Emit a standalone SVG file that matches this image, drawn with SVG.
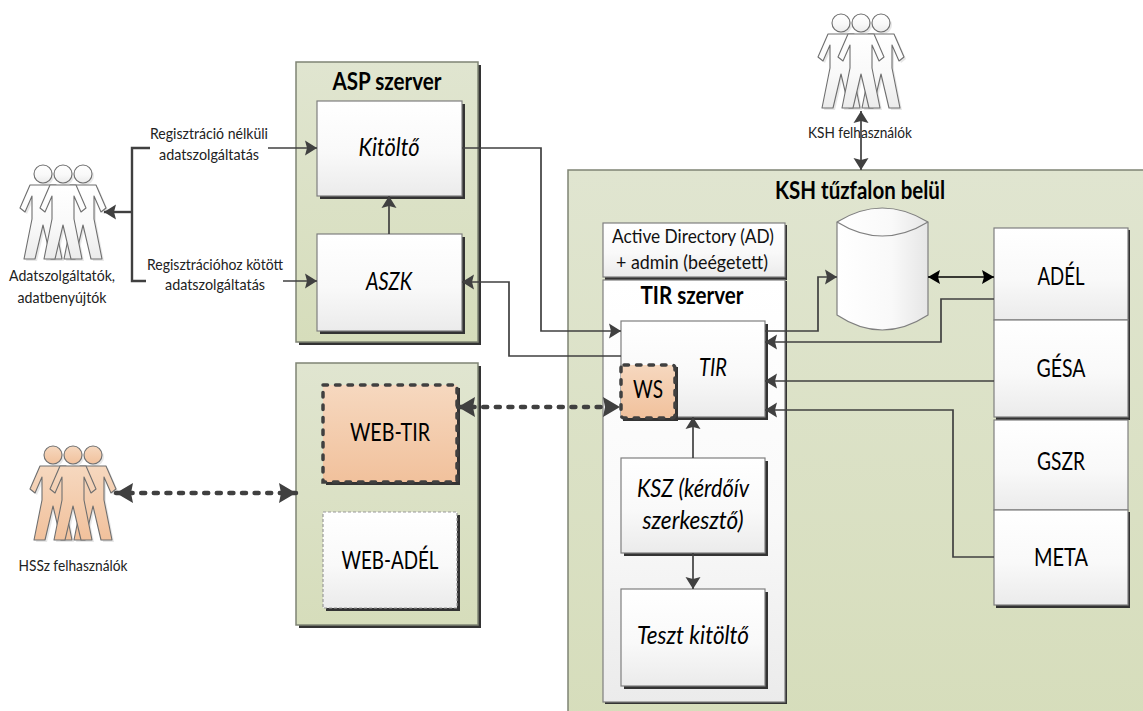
<svg xmlns="http://www.w3.org/2000/svg" xmlns:xlink="http://www.w3.org/1999/xlink" width="1143" height="711" viewBox="0 0 1143 711">
<style>
text{font-family:Lato,"Liberation Sans",sans-serif;fill:#000;text-anchor:middle}
.sm{font-size:15px;fill:#222}
.ad{font-size:20px;fill:#111}
.md{font-size:25px}
.it{font-size:25px;font-style:italic}
.b{font-size:24px;font-weight:bold}
.shadow{fill:#333}
.box{fill:url(#white);stroke:#7f7f7f;stroke-width:1.2}
.green{stroke:#7f8474;stroke-width:1.5}
.orange{fill:url(#orange);stroke:#404040;stroke-width:3.5;stroke-dasharray:4.5 8;stroke-linecap:round}
.pw{fill:url(#white);stroke:#6f6f6f;stroke-width:1.1;stroke-linejoin:round}
.po{fill:url(#orange);stroke:#6f6f6f;stroke-width:1.1;stroke-linejoin:round}
.ps{fill:#000;opacity:.09}
.c{fill:none;stroke:#404040;stroke-width:1.7}
.a{marker-end:url(#arr)}
.t{stroke-width:2.4}
.d{fill:none;stroke:#404040;stroke-width:4.5;stroke-dasharray:4 8.6;stroke-linecap:round;marker-start:url(#big);marker-end:url(#big)}
</style>
<defs>
<linearGradient id="white" x1="0" y1="0" x2="0" y2="1"><stop offset="0" stop-color="#fff"/><stop offset=".55" stop-color="#f9f9f9"/><stop offset="1" stop-color="#ebebeb"/></linearGradient>
<linearGradient id="orange" x1="0" y1="0" x2="0" y2="1"><stop offset="0" stop-color="#f6d8bf"/><stop offset="1" stop-color="#f1c19c"/></linearGradient>
<linearGradient id="green" x1="0" y1="0" x2="0" y2="1"><stop offset="0" stop-color="#e0e5d0"/><stop offset="1" stop-color="#d6ddbb"/></linearGradient>
<linearGradient id="cyl" x1="0" y1="0" x2="1" y2="0"><stop offset="0" stop-color="#fff"/><stop offset=".6" stop-color="#f9f9f9"/><stop offset="1" stop-color="#e6e6e6"/></linearGradient>
<marker id="arr" markerUnits="userSpaceOnUse" markerWidth="14" markerHeight="18" viewBox="0 0 14 18" refX="13" refY="9" orient="auto-start-reverse"><path d="M1 1.5 L13 9 L1 16.5 L3 9Z" fill="#404040"/></marker>
<marker id="blk" markerUnits="userSpaceOnUse" markerWidth="14" markerHeight="16" viewBox="0 0 14 16" refX="13" refY="8" orient="auto-start-reverse"><path d="M1 1 L13 8 L1 15 L3 8Z" fill="#000"/></marker>
<marker id="big" markerUnits="userSpaceOnUse" markerWidth="20" markerHeight="22" viewBox="0 0 20 22" refX="19" refY="11" orient="auto-start-reverse"><path d="M2 1 L19 11 L2 21 L4 11Z" fill="#404040"/></marker>
<g id="man">
<circle cx="0" cy="0" r="9"/>
<path d="M-13 11 L13 11 L23 34 L18 38 L11 22 L11 45 L19 85 L8 85 L0 51 L-8 85 L-19 85 L-11 45 L-11 22 L-18 38 L-23 34Z"/>
</g>
<g id="crowd">
<use xlink:href="#man" x="-20"/><use xlink:href="#man" x="20"/><use xlink:href="#man"/>
</g>
</defs>

<rect width="1143" height="711" fill="#fff"/>

<g id="ksh-zone">
<rect class="green" x="568" y="170" width="590" height="560" fill="url(#green)"/>
<text class="b" x="860" y="199" textLength="170" lengthAdjust="spacingAndGlyphs">KSH tűzfalon belül</text>
</g>

<g id="asp-server">
<rect class="shadow" x="299" y="65" width="182" height="280"/>
<rect class="green" x="296" y="62" width="182" height="280" fill="url(#green)"/>
<text class="b" x="387" y="90" textLength="109" lengthAdjust="spacingAndGlyphs">ASP szerver</text>
</g>
<g id="kitolto">
<rect class="shadow" x="320" y="104" width="145" height="95"/>
<rect class="box" x="317" y="101" width="145" height="95"/>
<text class="it" x="389" y="156" textLength="61" lengthAdjust="spacingAndGlyphs">Kitöltő</text>
</g>
<g id="aszk">
<rect class="shadow" x="320" y="237" width="145" height="97"/>
<rect class="box" x="317" y="234" width="145" height="97"/>
<text class="it" x="389" y="290" textLength="46" lengthAdjust="spacingAndGlyphs">ASZK</text>
</g>

<g id="web-server">
<rect class="shadow" x="299" y="366" width="182" height="262"/>
<rect class="green" x="296" y="363" width="182" height="262" fill="url(#green)"/>
</g>
<g id="web-tir">
<rect class="shadow" x="326" y="388" width="134" height="97"/>
<rect class="orange" x="323" y="385" width="134" height="97"/>
<text class="md" x="390" y="441" textLength="80" lengthAdjust="spacingAndGlyphs">WEB-TIR</text>
</g>
<g id="web-adel">
<rect class="shadow" x="326" y="515" width="134" height="96"/>
<rect x="323" y="512" width="134" height="96" fill="url(#white)" stroke="#999" stroke-width="1.2" stroke-dasharray="3 2"/>
<text class="md" x="390" y="569" textLength="97" lengthAdjust="spacingAndGlyphs">WEB-ADÉL</text>
</g>

<g id="active-directory">
<rect class="shadow" x="605" y="225" width="182" height="55"/>
<rect class="box" x="603" y="223" width="182" height="54"/>
<text class="ad" x="693" y="243" textLength="162" lengthAdjust="spacingAndGlyphs">Active Directory (AD)</text>
<text class="ad" x="692" y="269" textLength="152" lengthAdjust="spacingAndGlyphs">+ admin (beégetett)</text>
</g>
<g id="tir-server">
<rect class="shadow" x="605" y="281" width="182" height="423"/>
<rect class="box" x="603" y="280" width="182" height="422"/>
<text class="b" x="692" y="304" textLength="103" lengthAdjust="spacingAndGlyphs">TIR szerver</text>
</g>
<g id="tir">
<rect class="shadow" x="624" y="324" width="144" height="96"/>
<rect class="box" x="621" y="321" width="144" height="96"/>
<text class="it" x="713" y="376" textLength="28" lengthAdjust="spacingAndGlyphs">TIR</text>
</g>
<g id="ws">
<rect class="shadow" x="623" y="367" width="55" height="54"/>
<rect class="orange" x="621" y="365" width="54" height="53" rx="3"/>
<text class="md" x="648" y="398" textLength="30" lengthAdjust="spacingAndGlyphs">WS</text>
</g>
<g id="ksz">
<rect class="shadow" x="624" y="461" width="144" height="95"/>
<rect class="box" x="621" y="458" width="144" height="95"/>
<text class="it" x="693" y="497" textLength="112" lengthAdjust="spacingAndGlyphs">KSZ (kérdőív</text>
<text class="it" x="693" y="529" textLength="101" lengthAdjust="spacingAndGlyphs">szerkesztő)</text>
</g>
<g id="teszt">
<rect class="shadow" x="624" y="592" width="144" height="97"/>
<rect class="box" x="621" y="589" width="144" height="97"/>
<text class="it" x="693" y="644" textLength="112" lengthAdjust="spacingAndGlyphs">Teszt kitöltő</text>
</g>

<g id="database">
<path d="M837 222 Q882 194 928 222 L928 315 Q882 345 837 315Z" fill="url(#cyl)" stroke="#7f7f7f" stroke-width="1.2"/>
<path d="M837 222 Q882 250 928 222" fill="none" stroke="#7f7f7f" stroke-width="1.2"/>
</g>

<g id="adel">
<rect class="shadow" x="996" y="230" width="134" height="92"/>
<rect class="box" x="994" y="228" width="134" height="92"/>
<text class="md" x="1061" y="285" textLength="47" lengthAdjust="spacingAndGlyphs">ADÉL</text>
</g>
<g id="gesa">
<rect class="shadow" x="996" y="322" width="134" height="98"/>
<rect class="box" x="994" y="320" width="134" height="97"/>
<text class="md" x="1061" y="377" textLength="49" lengthAdjust="spacingAndGlyphs">GÉSA</text>
</g>
<g id="gszr">
<rect class="box" x="994" y="420" width="134" height="90"/>
<text class="md" x="1061" y="470" textLength="48" lengthAdjust="spacingAndGlyphs">GSZR</text>
</g>
<g id="meta">
<rect class="shadow" x="996" y="512" width="134" height="96"/>
<rect class="box" x="994" y="510" width="134" height="95"/>
<text class="md" x="1061" y="566" textLength="54" lengthAdjust="spacingAndGlyphs">META</text>
</g>

<g id="adatszolgaltatok">
<use xlink:href="#crowd" class="ps" x="65" y="176"/>
<use xlink:href="#crowd" class="pw" x="63" y="174"/>
<text class="sm" x="62" y="281" textLength="106" lengthAdjust="spacingAndGlyphs">Adatszolgáltatók,</text>
<text class="sm" x="62" y="303" textLength="89" lengthAdjust="spacingAndGlyphs">adatbenyújtók</text>
</g>
<g id="hssz">
<use xlink:href="#crowd" class="ps" x="75" y="457"/>
<use xlink:href="#crowd" class="po" x="73" y="455"/>
<text class="sm" x="73" y="571" textLength="109" lengthAdjust="spacingAndGlyphs">HSSz felhasználók</text>
</g>
<g id="ksh-users">
<use xlink:href="#crowd" class="ps" x="863" y="25"/>
<use xlink:href="#crowd" class="pw" x="861" y="23"/>
<text class="sm" x="860" y="138" textLength="104" lengthAdjust="spacingAndGlyphs">KSH felhasználók</text>
</g>

<g id="labels">
<text class="sm" x="209" y="139" textLength="118" lengthAdjust="spacingAndGlyphs">Regisztráció nélküli</text>
<text class="sm" x="209" y="160" textLength="100" lengthAdjust="spacingAndGlyphs">adatszolgáltatás</text>
<text class="sm" x="215" y="270" textLength="136" lengthAdjust="spacingAndGlyphs">Regisztrációhoz kötött</text>
<text class="sm" x="215" y="290" textLength="100" lengthAdjust="spacingAndGlyphs">adatszolgáltatás</text>
</g>

<g id="connectors">
<path class="c t a" d="M132 212 H104"/>
<path class="c t" d="M150 148 H132 V281 H146"/>
<path class="c a" d="M268 148 H317"/>
<path class="c a" d="M283 281 H317"/>
<path class="c a" d="M389 234 V196"/>
<path class="c a" d="M462 148 H541 V331 H621"/>
<path class="c a" d="M621 356 H509 V282 H462"/>
<path class="c a" d="M693 458 V417"/>
<path class="c a" d="M693 553 V589"/>
<path class="c a" d="M765 331 H818 V277 H837"/>
<path class="c a" d="M994 299 H941 V342 H765"/>
<path class="c a" d="M994 381 H765"/>
<path class="c a" d="M994 557 H953 V410 H765"/>
<path class="c a" style="marker-start:url(#arr)" d="M861 111 V170"/>
<path class="c" style="stroke:#000;marker-start:url(#blk);marker-end:url(#blk)" d="M928 277 H994"/>
<path class="d" d="M116 493 H296"/>
<path class="d" d="M458 407 H620"/>
</g>
</svg>
